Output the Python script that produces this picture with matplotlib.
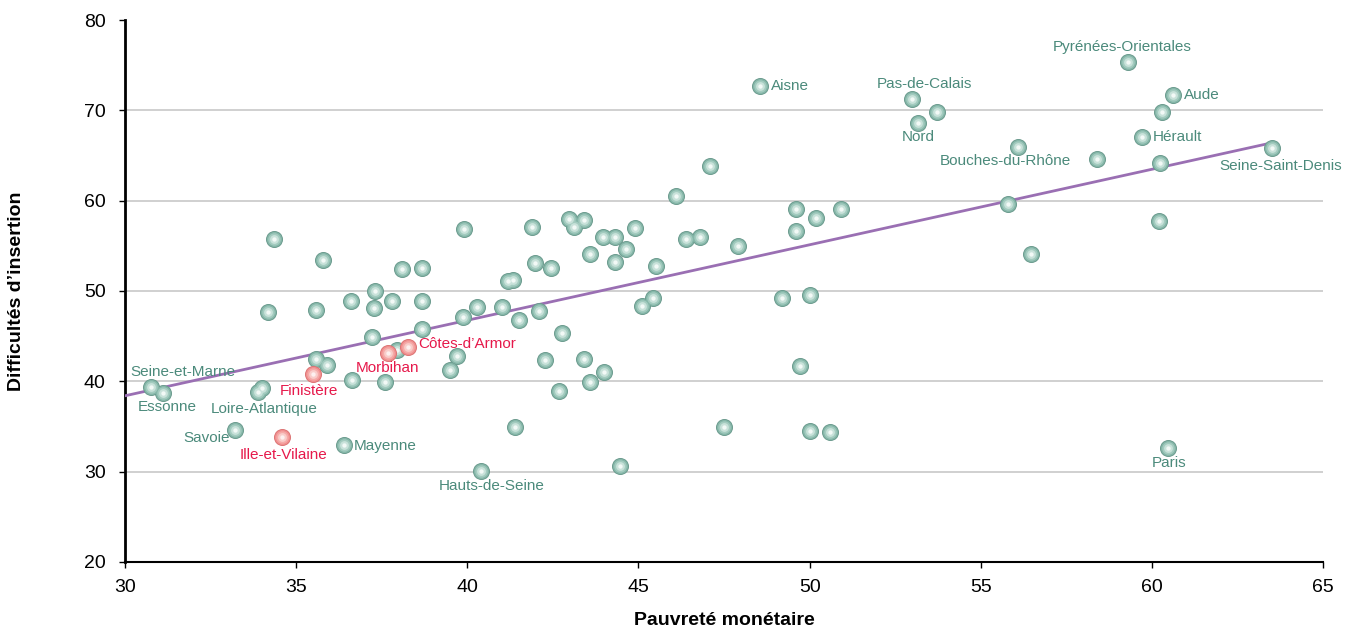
import numpy as np
import matplotlib.pyplot as plt

# labelled departements: name, pauvrete, difficultes
names = ["Aisne", "Pas-de-Calais", "Nord", "Pyrénées-Orientales", "Aude", "Hérault",
         "Bouches-du-Rhône", "Seine-Saint-Denis", "Paris", "Hauts-de-Seine", "Mayenne",
         "Savoie", "Loire-Atlantique", "Essonne", "Seine-et-Marne",
         "Ille-et-Vilaine", "Finistère", "Morbihan", "Côtes-d\u2019Armor"]
lab_x = [48.55, 52.99, 53.17, 59.30, 60.62, 59.71, 56.09, 63.51, 60.47, 40.40, 36.40,
         33.21, 33.89, 31.11, 30.76, 34.59, 35.49, 37.68, 38.27]
lab_y = [72.7, 71.25, 68.6, 75.35, 71.7, 67.05, 65.94, 65.83, 32.6, 30.07, 32.95,
         34.6, 38.8, 38.7, 39.37, 33.8, 40.8, 43.13, 43.8]
bretagne = ["Ille-et-Vilaine", "Finistère", "Morbihan", "Côtes-d\u2019Armor"]

# other departements (no label)
other_x = [53.72, 60.29, 60.24, 58.40, 55.80, 56.47, 60.21, 47.09, 46.10, 46.39, 46.80,
           47.90, 49.60, 50.19, 50.92, 49.60, 49.19, 50.01, 49.72, 47.50, 50.01, 50.60,
           44.46, 41.39, 42.68, 43.59, 44.00, 43.41, 42.27, 42.77, 39.70, 39.50, 39.90,
           41.89, 42.97, 43.41, 43.12, 43.96, 44.31, 44.90, 44.64, 43.58, 44.31, 45.51,
           41.98, 42.45, 41.19, 41.33, 38.68, 38.09, 38.68, 40.28, 41.01, 39.87, 41.51,
           42.10, 45.10, 45.42, 38.68, 37.22, 34.35, 35.78, 34.18, 35.58, 36.60, 37.30,
           37.27, 37.80, 35.58, 35.90, 36.63, 37.60, 37.95, 34.00]
other_y = [69.8, 69.8, 64.2, 64.6, 59.6, 54.1, 57.75, 63.8, 60.5, 55.76, 55.98,
           54.98, 59.08, 58.08, 59.08, 56.64, 49.2, 49.55, 41.7, 34.94, 34.5, 34.4,
           30.62, 34.94, 38.93, 39.93, 41.03, 42.47, 42.36, 45.35, 42.8, 41.25, 56.86,
           57.08, 57.97, 57.86, 57.08, 55.98, 55.98, 56.97, 54.65, 54.10, 53.20, 52.77,
           53.10, 52.55, 51.10, 51.20, 52.6, 52.4, 48.9, 48.2, 48.2, 47.1, 46.8,
           47.8, 48.3, 49.2, 45.8, 44.9, 55.75, 53.4, 47.7, 47.9, 48.9, 50.0,
           48.1, 48.9, 42.47, 41.8, 40.1, 39.9, 43.47, 39.3]

trend_x = [30, 63.5]
trend_y = [38.4, 66.4]

# label offsets in points (dx, dy, ha)
offsets = {
    "Aisne": (8, 0, "left"), "Pas-de-Calais": (9, 11, "center"), "Nord": (0, -10, "center"),
    "Pyrénées-Orientales": (-4, 11, "center"), "Aude": (8, 0, "left"),
    "Hérault": (8, 0, "left"), "Bouches-du-Rhône": (-9, -10, "center"),
    "Seine-Saint-Denis": (6, -13, "center"), "Paris": (1, -11, "center"),
    "Hauts-de-Seine": (8, -11, "center"), "Mayenne": (7, -1, "left"),
    "Savoie": (-4, -6, "right"), "Loire-Atlantique": (4, -12, "center"),
    "Essonne": (3, -10, "center"), "Seine-et-Marne": (23, 11, "center"),
    "Ille-et-Vilaine": (1, -13, "center"), "Finistère": (-3, -12, "center"),
    "Morbihan": (0, -11, "center"), "Côtes-d\u2019Armor": (7, 2, "left"),
}

teal_txt = "#4b8a7b"
red_txt = "#e6194b"

plt.rcParams['font.family'] = ['Liberation Sans', 'DejaVu Sans']

fig = plt.figure(figsize=(13.55, 6.35), dpi=100)
ax = fig.add_axes([0.0923, 0.115, 0.8841, 0.8535])


def spheres(x, y, cols):
    # fake shaded ball: stack of shrinking lighter discs
    sizes = [150, 120, 80, 40, 10]
    for s, c in zip(sizes, cols):
        ax.scatter(x, y, s=s, color=c, linewidths=0, zorder=4)


teal_cols = ["#6a9a8d", "#85b6a8", "#a3cbbf", "#c9e2da", "#f2f9f6"]
red_cols = ["#dc7373", "#f08f8f", "#f5aaa8", "#f9cdca", "#fdf0ef"]

red_x = [x for n, x in zip(names, lab_x) if n in bretagne]
red_y = [y for n, y in zip(names, lab_y) if n in bretagne]
tl_x = [x for n, x in zip(names, lab_x) if n not in bretagne]
tl_y = [y for n, y in zip(names, lab_y) if n not in bretagne]

ax.plot(trend_x, trend_y, color="#9a6fb3", lw=2, zorder=3)
spheres(other_x + tl_x, other_y + tl_y, teal_cols)
spheres(red_x, red_y, red_cols)

for n, x, y in zip(names, lab_x, lab_y):
    dx, dy, ha = offsets[n]
    ax.annotate(n, (x, y), xytext=(dx, dy), textcoords="offset points",
                ha=ha, va="center", fontsize=11,
                color=red_txt if n in bretagne else teal_txt, zorder=5)

ax.set_xlim(30, 65)
ax.set_ylim(20, 80)
ax.set_xticks(np.arange(30, 66, 5))
ax.set_yticks(np.arange(20, 81, 10))
for g in [30, 40, 50, 60, 70]:
    ax.axhline(g, color="#c8c8c8", lw=1.2, zorder=1)

for s in ["top", "right"]:
    ax.spines[s].set_visible(False)
ax.spines["left"].set_linewidth(2)
ax.spines["bottom"].set_linewidth(1.5)
ax.tick_params(axis="both", labelsize=14, length=4, width=1, colors="black")
ax.tick_params(axis="y", pad=10)
ax.tick_params(axis="x", pad=8)

lab_font = dict(family=['Liberation Sans Narrow', 'Liberation Sans'], fontweight="bold", fontsize=14)
ax.set_xlabel("Pauvreté monétaire", labelpad=12, **lab_font)
ax.set_ylabel("Difficultés d\u2019insertion", labelpad=42, **lab_font)

fig.savefig("out.png", dpi=100)
